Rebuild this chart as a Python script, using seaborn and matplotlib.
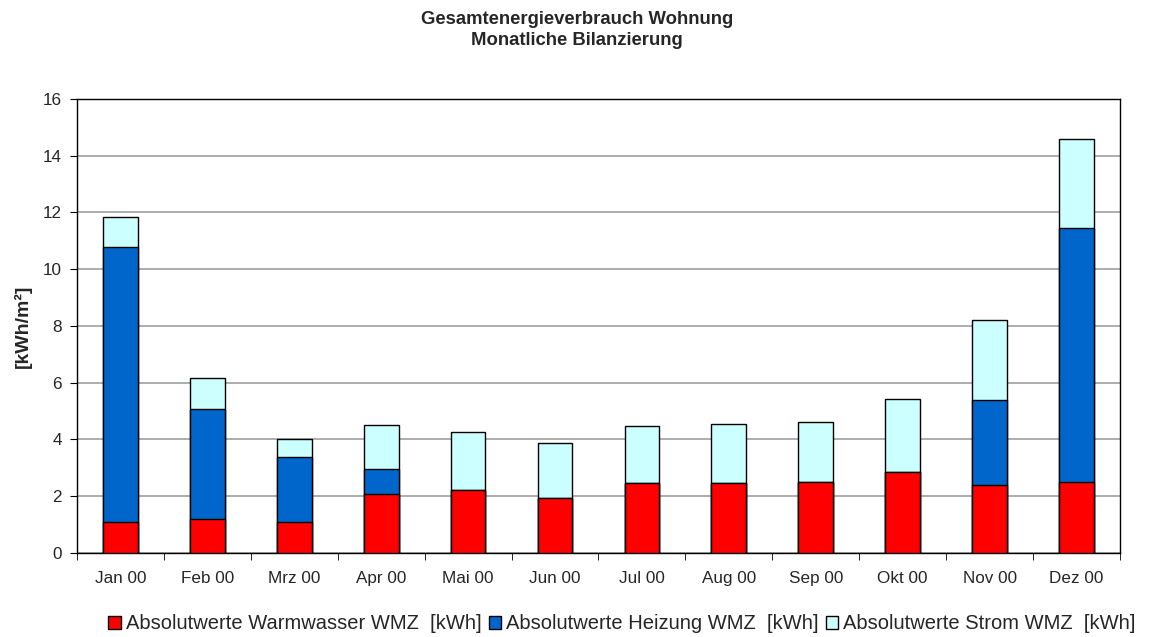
import matplotlib
matplotlib.use("Agg")
import matplotlib.pyplot as plt
import seaborn as sns
import pandas as pd
import numpy as np

# Monthly values [kWh/m²]
months = ["Jan 00", "Feb 00", "Mrz 00", "Apr 00", "Mai 00", "Jun 00",
          "Jul 00", "Aug 00", "Sep 00", "Okt 00", "Nov 00", "Dez 00"]
warmwasser = [1.09, 1.20, 1.10, 2.07, 2.23, 1.95, 2.48, 2.45, 2.50, 2.85, 2.40, 2.50]
heizung = [9.69, 3.87, 2.27, 0.90, 0.00, 0.00, 0.00, 0.00, 0.00, 0.00, 2.99, 8.95]
strom = [1.06, 1.09, 0.66, 1.53, 2.05, 1.93, 1.99, 2.08, 2.12, 2.57, 2.83, 3.15]

labels = ["Absolutwerte Warmwasser WMZ  [kWh]",
          "Absolutwerte Heizung WMZ  [kWh]",
          "Absolutwerte Strom WMZ  [kWh]"]
colors = ["#ff0000", "#0066cc", "#ccffff"]

df = pd.DataFrame({"Monat": months, "WW": warmwasser, "HZ": heizung, "ST": strom})
df["WW_HZ"] = df["WW"] + df["HZ"]
df["TOTAL"] = df["WW_HZ"] + df["ST"]

sns.set_style("white")
plt.rcParams["font.family"] = ["Liberation Sans", "DejaVu Sans"]

fig = plt.figure(figsize=(11.54, 6.37), dpi=100)
ax = fig.add_axes([0.0667, 0.1319, 0.9038, 0.7127])

# stacked bars drawn as cumulative layers, tallest first
for col, color, lab in [("TOTAL", colors[2], labels[2]),
                        ("WW_HZ", colors[1], labels[1]),
                        ("WW", colors[0], labels[0])]:
    sns.barplot(data=df, x="Monat", y=col, color=color, width=0.40,
                edgecolor="black", linewidth=1.0, saturation=1, ax=ax,
                label=lab, zorder=3)

ax.set_ylim(0, 16)
ax.set_xlim(-0.5, 11.5)
ax.set_yticks(np.arange(0, 17, 2))
ax.yaxis.grid(True, color="#a0a0a0", linewidth=1.2, zorder=0)
ax.set_axisbelow(True)
for s in ax.spines.values():
    s.set_color("black")
    s.set_linewidth(1.0)

ax.set_xticks(np.arange(len(months)))
ax.set_xticklabels(months, fontsize=12.3)
ax.tick_params(axis="x", length=0, pad=13)
ax.set_xticks(np.arange(-0.5, len(months) + 0.5, 1), minor=True)
ax.tick_params(axis="x", which="minor", length=5, direction="out", bottom=True, color="black")
ax.tick_params(axis="y", labelsize=12.3, length=5, pad=6, direction="out", left=True, color="black")

ax.set_xlabel("")
ax.set_ylabel("[kWh/m²]", fontsize=14, fontweight="bold", labelpad=8)
fig.suptitle("Gesamtenergieverbrauch Wohnung\nMonatliche Bilanzierung",
             fontsize=13.3, fontweight="bold", y=0.982, x=0.5, linespacing=1.3)

handles, hl = ax.get_legend_handles_labels()
order = [hl.index(l) for l in labels]
ax.legend([handles[i] for i in order], [hl[i] for i in order],
          loc="center", bbox_to_anchor=(0.5225, -0.156), ncol=3, frameon=False,
          fontsize=14.5, handlelength=0.62, handleheight=0.62, handletextpad=0.25,
          columnspacing=0.35, borderaxespad=0)

fig.savefig("out.png", dpi=100, facecolor="white")
